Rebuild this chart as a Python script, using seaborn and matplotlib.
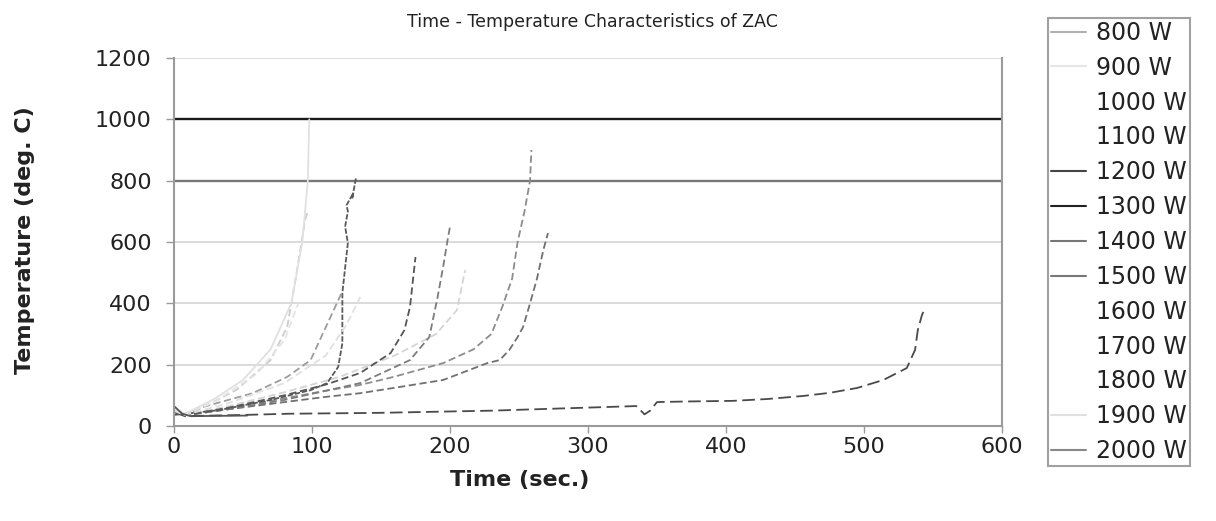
import numpy as np
import pandas as pd
import seaborn as sns
import matplotlib.pyplot as plt
from matplotlib.lines import Line2D

# series names
powers = ["800 W", "900 W", "1000 W", "1100 W", "1200 W", "1300 W", "1400 W",
          "1500 W", "1600 W", "1700 W", "1800 W", "1900 W", "2000 W"]

# time (sec.) / temperature (deg. C)
t_800 = [0, 8, 15, 50, 83, 130, 150, 230, 300, 335, 341, 345, 350, 372, 405, 430, 456, 475, 495, 514, 531, 537, 539, 542, 543]
T_800 = [45, 32, 33, 36, 40, 42, 43, 50, 60, 65, 38, 50, 78, 80, 82, 88, 98, 108, 124, 150, 189, 248, 313, 362, 372]

t_900 = [0, 8, 40, 80, 110, 135, 159, 195, 227, 236, 243, 249, 253, 258, 263, 266, 268, 271]
T_900 = [55, 35, 55, 78, 95, 107, 124, 150, 205, 215, 248, 290, 323, 400, 480, 541, 580, 629]

t_1000 = [0, 8, 40, 80, 110, 135, 159, 195, 217, 230, 238, 245, 249, 254, 258, 259]
T_1000 = [50, 35, 60, 90, 115, 134, 160, 205, 250, 300, 390, 480, 600, 700, 800, 900]

t_1100 = [0, 8, 40, 80, 120, 160, 190, 205, 211]
T_1100 = [50, 35, 65, 110, 160, 230, 300, 378, 508]

t_1200 = [0, 8, 40, 80, 110, 135, 171, 185, 191, 195, 198, 200]
T_1200 = [50, 35, 55, 85, 115, 140, 215, 290, 420, 518, 600, 650]

t_1300 = [0, 8, 40, 80, 110, 135, 157, 167, 171, 173, 175]
T_1300 = [55, 35, 60, 100, 135, 173, 238, 313, 388, 470, 551]

t_1400 = [0, 33, 70, 99, 111, 119, 122, 122, 126, 124, 126, 125, 130, 129, 132]
T_1400 = [36, 52, 85, 117, 140, 193, 270, 434, 597, 650, 700, 720, 760, 740, 812]

t_1500 = [0, 8, 21, 57, 82, 99, 108, 118, 122]
T_1500 = [55, 35, 62, 107, 160, 215, 303, 400, 440]

t_1600 = [0, 8, 40, 80, 110, 125, 135]
T_1600 = [50, 36, 75, 140, 230, 330, 420]

t_1700 = [0, 8, 25, 45, 70, 82, 87, 91, 95, 97]
T_1700 = [55, 38, 70, 117, 215, 323, 450, 560, 672, 700]

t_1800 = [0, 8, 30, 60, 80, 90]
T_1800 = [55, 38, 80, 170, 280, 400]

t_1900 = [0, 8, 30, 50, 70, 85, 93, 97, 98]
T_1900 = [55, 40, 90, 150, 250, 400, 600, 800, 1000]

t_2000 = [0, 6, 12, 30, 53]
T_2000 = [65, 40, 32, 33, 34]

times = [t_800, t_900, t_1000, t_1100, t_1200, t_1300, t_1400,
         t_1500, t_1600, t_1700, t_1800, t_1900, t_2000]
temps = [T_800, T_900, T_1000, T_1100, T_1200, T_1300, T_1400,
         T_1500, T_1600, T_1700, T_1800, T_1900, T_2000]

rows = []
for p, ts, Ts in zip(powers, times, temps):
    for i, (a, b) in enumerate(zip(ts, Ts)):
        rows.append({"power": p, "order": i, "time": a, "temp": b})
df = pd.DataFrame(rows)

# line colours on the plot
line_colors = {"800 W": "#4a4a4a", "900 W": "#707070", "1000 W": "#8c8c8c",
               "1100 W": "#d4d4d4", "1200 W": "#7c7c7c", "1300 W": "#555555",
               "1400 W": "#5a5a5a", "1500 W": "#9c9c9c", "1600 W": "#e0e0e0",
               "1700 W": "#cccccc", "1800 W": "#e4e4e4", "1900 W": "#e0e0e0",
               "2000 W": "#555555"}
line_dashes = {p: (4, 2) for p in powers}
line_dashes["800 W"] = (7, 3)
line_dashes["1400 W"] = (3, 1)
line_dashes["1900 W"] = ""
line_dashes["2000 W"] = ""

# legend handle colours as they appear in the key
key_colors = {"800 W": "#b0b0b0", "900 W": "#e6e6e6", "1000 W": "white",
              "1100 W": "white", "1200 W": "#444444", "1300 W": "#222222",
              "1400 W": "#777777", "1500 W": "#777777", "1600 W": "white",
              "1700 W": "white", "1800 W": "white", "1900 W": "#e0e0e0",
              "2000 W": "#888888"}

sns.set_style("white")
plt.rcParams["font.family"] = ["DejaVu Sans"]

fig = plt.figure(figsize=(12.16, 5.21), dpi=100)
ax = fig.add_axes([174 / 1216, 1 - 426 / 521, 828 / 1216, 368 / 521])

sns.lineplot(data=df, x="time", y="temp", hue="power", style="power",
             units="power", estimator=None, sort=False, palette=line_colors,
             dashes=line_dashes, linewidth=1.3, legend=False, ax=ax)

ax.set_xlim(0, 600)
ax.set_ylim(0, 1200)
ax.set_xticks(range(0, 601, 100))
ax.set_yticks(range(0, 1201, 200))

# gridlines, the 800 and 1000 ones are darker in the original
grid_colors = {200: "#d4d4d4", 400: "#d4d4d4", 600: "#d4d4d4",
               800: "#777777", 1000: "#1a1a1a", 1200: "#d4d4d4"}
for yv, c in grid_colors.items():
    ax.axhline(yv, color=c, linewidth=1.7 if yv in (800, 1000) else 1.2, zorder=0.5)

for s in ["left", "bottom", "right"]:
    ax.spines[s].set_color("#9a9a9a")
    ax.spines[s].set_linewidth(1.5)
ax.spines["top"].set_visible(False)

ax.tick_params(axis="y", direction="out", length=6, width=1, color="#9a9a9a",
               pad=10, labelsize=16, labelcolor="#222222")
ax.tick_params(axis="x", direction="out", length=5, width=1, color="#9a9a9a",
               pad=3, labelsize=16, labelcolor="#222222")
ax.tick_params(left=True, bottom=True)

ax.set_xlabel("")
ax.set_ylabel("")
fig.text(520 / 1216, 1 - 480 / 521, "Time (sec.)", ha="center", va="center",
         fontsize=16, fontweight="bold", color="#222222")
fig.text(25 / 1216, 1 - 240 / 521, "Temperature (deg. C)", ha="center", va="center",
         rotation=90, fontsize=16, fontweight="bold", color="#222222")
fig.text(592 / 1216, 1 - 22 / 521, "Time - Temperature Characteristics of ZAC",
         ha="center", va="center", fontsize=12.5, color="#222222",
         family=["Liberation Sans Narrow", "DejaVu Sans"])

handles = [Line2D([0], [0], color=key_colors[p], linewidth=1.5) for p in powers]
leg = fig.legend(handles, powers, loc="upper left",
                 bbox_to_anchor=(1048 / 1216, 1 - 18 / 521),
                 bbox_transform=fig.transFigure, frameon=True, fancybox=False,
                 fontsize=17, handlelength=1.5, handletextpad=0.4,
                 labelspacing=0.46, borderpad=0.12, borderaxespad=0)
leg.get_frame().set_edgecolor("#8a8a8a")
leg.get_frame().set_linewidth(1.5)
for txt in leg.get_texts():
    txt.set_color("#222222")

fig.savefig("out.png", dpi=100)
